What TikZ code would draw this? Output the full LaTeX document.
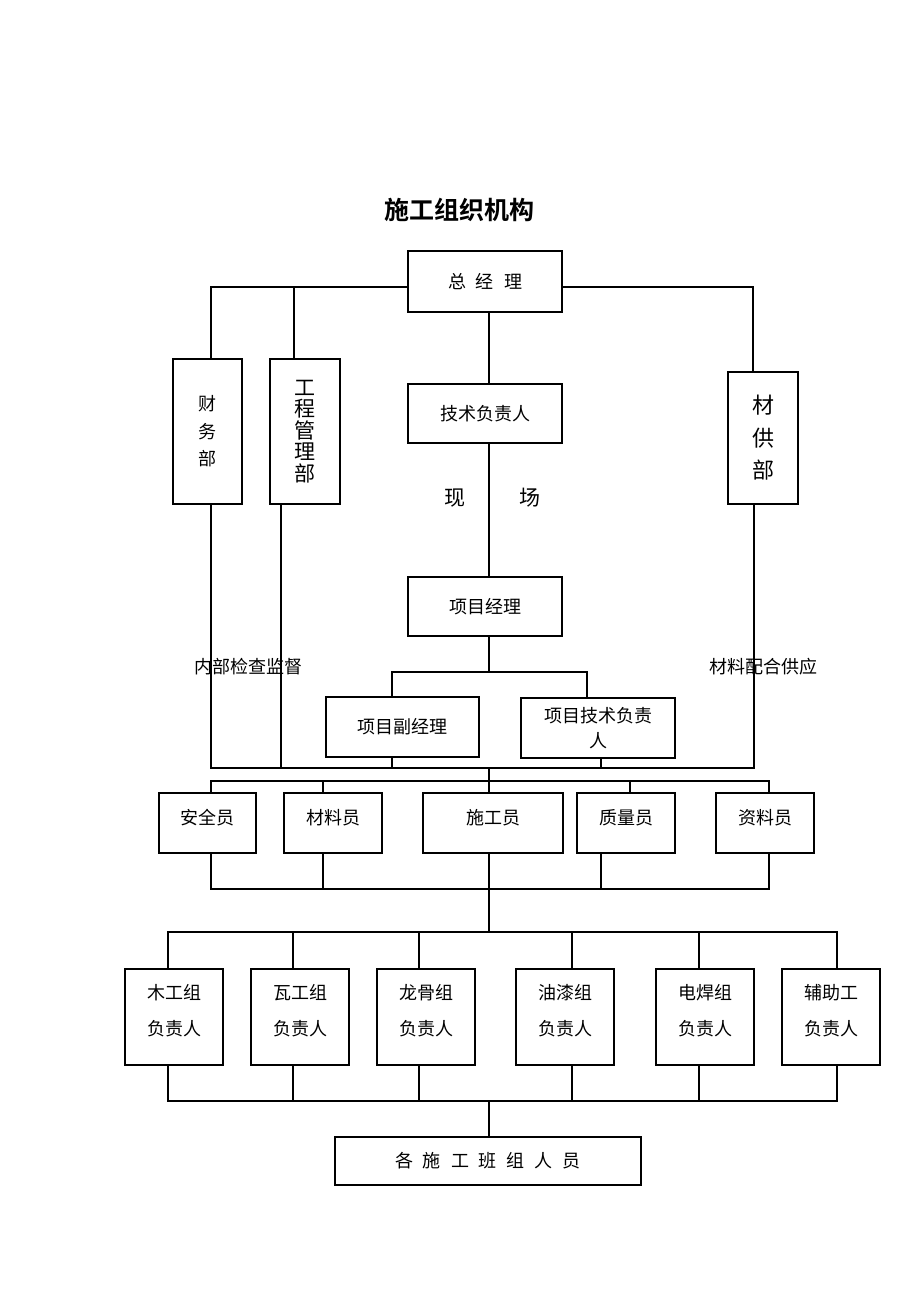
\documentclass[tikz,border=0pt]{standalone}
\usepackage{fontspec}
\setmainfont{Noto Sans CJK SC}[BoldFont={Noto Sans CJK SC Bold}]
\usepackage{tikz}
\usetikzlibrary{positioning,calc}

\begin{document}
\begin{tikzpicture}[x=1pt,y=-1pt,line width=1.1pt,
  box/.style={draw,inner sep=0pt,align=center,font=\fontsize{18}{24}\selectfont},
  box2/.style={box,minimum height=60,text depth=12pt},
  box3/.style={box,minimum width=98,minimum height=96,font=\fontsize{18}{36}\selectfont,text depth=14pt},
  lbl/.style={font=\fontsize{18}{24}\selectfont}]
\useasboundingbox (0,0) rectangle (920,1302);
\coordinate (mid) at (489,0);
\node (title) at (459,210) {\fontsize{25}{30}\selectfont\bfseries 施工组织机构};
\node (zjl) [box,minimum width=154,minimum height=61] at (485,281.5) {总\hspace{10pt}经\hspace{10pt}理};
\node (cwb) [box,minimum width=69,minimum height=145,font=\fontsize{18}{27.5}\selectfont] at (207.5,431.5) {财\\务\\部};
\node (gcb) [box,minimum width=70,minimum height=145,font=\fontsize{21}{21.5}\selectfont] at (305,431.5) {工\\程\\管\\理\\部};
\node (cgb) [box,minimum width=70,minimum height=132,font=\fontsize{22}{32.5}\selectfont] at (763,438) {材\\供\\部};
\node (jsfzr) [box,minimum width=154,minimum height=59] at (485,413.5) {技术负责人};
\node (xian) [lbl,font=\fontsize{21}{24}\selectfont] at (455,498) {现};
\node (chang) [lbl,font=\fontsize{21}{24}\selectfont] at (530,498) {场};
\node (xmjl) [box,minimum width=154,minimum height=59] at (485,606.5) {项目经理};
\node (nbjc) [lbl] at (248,667) {内部检查监督};
\node (clgy) [lbl] at (763,667) {材料配合供应};
\node (fjl) [box,minimum width=153,minimum height=60] at (402.5,727) {项目副经理};
\node (jsfz) [box,minimum width=154,minimum height=60,font=\fontsize{18}{25}\selectfont] at (598,728) {项目技术负责\\人};
\node (aqy) [box2,minimum width=97] at (207.5,823) {安全员};
\node (cly) [box2,minimum width=98] at (333,823) {材料员};
\node (sgy) [box2,minimum width=140] at (493,823) {施工员};
\node (zly) [box2,minimum width=98] at (626,823) {质量员};
\node (zlly) [box2,minimum width=98] at (765,823) {资料员};
\node (mgz) [box3] at (174,1017) {木工组\\负责人};
\node (wgz) [box3] at (300,1017) {瓦工组\\负责人};
\node (lgz) [box3] at (426,1017) {龙骨组\\负责人};
\node (yqz) [box3] at (565,1017) {油漆组\\负责人};
\node (dhz) [box3] at (705,1017) {电焊组\\负责人};
\node (fzg) [box3] at (831,1017) {辅助工\\负责人};
\node (gry) [box,minimum width=306,minimum height=48] at (488,1161) {各\hspace{10pt}施\hspace{10pt}工\hspace{10pt}班\hspace{10pt}组\hspace{10pt}人\hspace{10pt}员};
\coordinate (b1) at (489,287);
\draw (zjl.west |- b1) -| ([xshift=3.5pt]cwb.north);
\draw ([xshift=-11pt]gcb.north) |- (zjl.west |- b1);
\draw (zjl.east |- b1) -| ([xshift=-10pt]cgb.north);
\draw (zjl.south -| mid) -- (jsfzr.north -| mid);
\draw (jsfzr.south -| mid) -- (xmjl.north -| mid);
\coordinate (b2) at (489,672);
\draw (xmjl.south -| mid) -- (b2);
\draw ([xshift=-10.5pt]fjl.north) |- (b2) -| ([xshift=-11pt]jsfz.north);
\coordinate (b3) at (489,768);
\draw ([xshift=3.5pt]cwb.south) |- (b3) -| ([xshift=-9pt]cgb.south);
\draw ([xshift=-24pt]gcb.south) |- (b3);
\draw ([xshift=-10.5pt]fjl.south) |- (b3);
\draw ([xshift=3pt]jsfz.south) |- (b3);
\coordinate (b4) at (489,781);
\draw (b3) -- (sgy.north -| mid);
\draw ([xshift=3.5pt]aqy.north) |- (b4) -| ([xshift=4pt]zlly.north);
\draw ([xshift=-10pt]cly.north) |- (b4);
\draw ([xshift=4pt]zly.north) |- (b4);
\coordinate (b5) at (489,889);
\draw ([xshift=3.5pt]aqy.south) |- (b5) -| ([xshift=4pt]zlly.south);
\draw ([xshift=-10pt]cly.south) |- (b5);
\draw ([xshift=-25pt]zly.south) |- (b5);
\draw (sgy.south -| mid) -- (b5);
\coordinate (b6) at (489,932);
\draw (b5) -- (b6);
\draw ([xshift=-6pt]mgz.north) |- (b6) -| ([xshift=6pt]fzg.north);
\draw ([xshift=-7pt]wgz.north) |- (b6);
\draw ([xshift=-7pt]lgz.north) |- (b6);
\draw ([xshift=7pt]yqz.north) |- (b6);
\draw ([xshift=-6pt]dhz.north) |- (b6);
\coordinate (b7) at (489,1101);
\draw ([xshift=-6pt]mgz.south) |- (b7) -| ([xshift=6pt]fzg.south);
\draw ([xshift=-7pt]wgz.south) |- (b7);
\draw ([xshift=-7pt]lgz.south) |- (b7);
\draw ([xshift=7pt]yqz.south) |- (b7);
\draw ([xshift=-6pt]dhz.south) |- (b7);
\draw (b7) -- (gry.north -| mid);
\end{tikzpicture}
\end{document}
